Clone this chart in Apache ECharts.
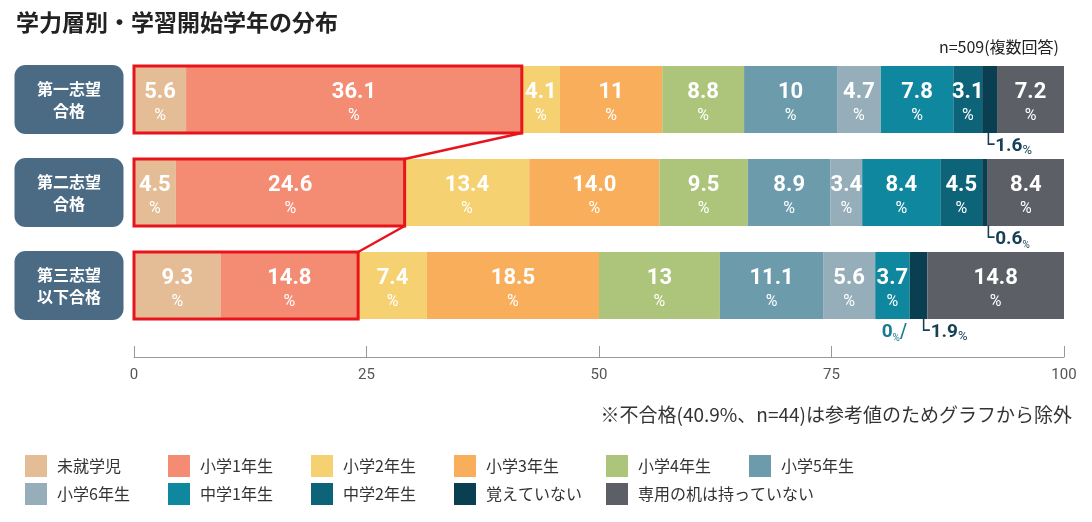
<!DOCTYPE html>
<html>
<head>
<meta charset="utf-8">
<title>ECharts</title>
<script src="https://cdn.jsdelivr.net/npm/echarts@6/dist/echarts.min.js"></script>
</head>
<body style="margin:0">
<div id="main" style="width: 1092px; height: 522px;"></div>
<script type="text/javascript">
// 行ラベル
var categories = ['第一志望\n合格', '第二志望\n合格', '第三志望\n以下合格'];
// 系列（学習開始学年）
var seriesNames = ['未就学児', '小学1年生', '小学2年生', '小学3年生', '小学4年生', '小学5年生',
  '小学6年生', '中学1年生', '中学2年生', '覚えていない', '専用の机は持っていない'];
var colors = ['#e4bd97', '#f48c74', '#f6d172', '#f9ae5c', '#adc57a', '#6c9bab',
  '#96aeba', '#0e879f', '#0d6479', '#0a3e51', '#5c5f66'];
// 各行の値（%）、表示どおりの桁で文字列に
var firstChoice = ['5.6', '36.1', '4.1', '11', '8.8', '10', '4.7', '7.8', '3.1', '1.6', '7.2'];
var secondChoice = ['4.5', '24.6', '13.4', '14.0', '9.5', '8.9', '3.4', '8.4', '4.5', '0.6', '8.4'];
var thirdOrLower = ['9.3', '14.8', '7.4', '18.5', '13', '11.1', '5.6', '3.7', '0', '1.9', '14.8'];
var xTicks = [0, 25, 50, 75, 100];

var rows = [firstChoice, secondChoice, thirdOrLower];
var myChart = echarts.init(document.getElementById('main'));
var font = '"Noto Sans CJK JP", "Noto Sans", sans-serif';
var numFont = 'Roboto, "Noto Sans", sans-serif';

var insideLabel = {
  show: true,
  position: 'inside',
  offset: [0, 3],
  formatter: function (p) { return '{v|' + p.data + '}\n{p|%}'; },
  rich: {
    v: { color: '#fff', fontSize: 22, fontWeight: 'bold', fontFamily: numFont, lineHeight: 27 },
    p: { color: '#fff', fontSize: 16, fontFamily: numFont, lineHeight: 20 }
  }
};

// 棒の外に出すラベル（覚えていない など）
function outsideLabel(color, small, leader, alignRight, dx) {
  return {
    show: true,
    position: [0, '100%'],
    align: alignRight ? 'right' : 'left',
    verticalAlign: 'top',
    offset: [dx, 2],
    formatter: function (p) {
      var v = p.data.value;
      return alignRight ? '{v|' + v + '}{p|%}{l|' + leader + '}' : '{l|' + leader + '}{v|' + v + '}{p|%}';
    },
    rich: {
      l: { color: color, fontSize: 20, fontFamily: '"DejaVu Sans"', lineHeight: 22, padding: [0, 1, 0, 0] },
      v: { color: color, fontSize: 19, fontWeight: 'bold', fontFamily: numFont, lineHeight: 22 },
      p: { color: color, fontSize: small ? 10 : 13, fontFamily: numFont, lineHeight: 22, verticalAlign: 'bottom' }
    }
  };
}

var series = seriesNames.map(function (name, si) {
  return {
    name: name,
    type: 'bar',
    stack: 'total',
    barWidth: 67,
    itemStyle: { color: colors[si] },
    label: insideLabel,
    data: rows.map(function (row, ri) {
      var v = row[si];
      if (si === 9) {
        return { value: v, label: outsideLabel('#173f56', ri === 1, '└', false, ri === 2 ? 8 : 0) };
      }
      if (si === 8 && ri === 2) {
        return { value: v, label: outsideLabel('#1b7a93', true, '/', true, -2) };
      }
      return v;
    })
  };
});

// 赤枠（未就学児＋小学1年生）と行間の接続線
var boxData = rows.map(function (row, ri) {
  var s = +row[0] + +row[1];
  var next = rows[ri + 1] ? (+rows[ri + 1][0] + +rows[ri + 1][1]) : s;
  return [ri, s, next, ri + 1];
});
series.push({
  type: 'custom',
  name: 'box',
  z: 10,
  silent: true,
  clip: false,
  encode: { x: 1, y: 0 },
  data: boxData,
  renderItem: function (params, api) {
    var h = 67;
    var p0 = api.coord([0, api.value(0)]);
    var p1 = api.coord([api.value(1), api.value(0)]);
    var children = [{
      type: 'rect',
      shape: { x: p0[0], y: p0[1] - h / 2, width: p1[0] - p0[0], height: h },
      style: { fill: 'none', stroke: '#e8141c', lineWidth: 3 }
    }];
    if (params.dataIndex < 2) {
      var pn = api.coord([api.value(2), api.value(3)]);
      children.push({
        type: 'line',
        shape: { x1: p1[0], y1: p1[1] + h / 2, x2: pn[0], y2: pn[1] - h / 2 },
        style: { stroke: '#e8141c', lineWidth: 2.5 }
      });
    }
    return { type: 'group', children: children };
  }
});

// 凡例は6列のグリッドに並べる
var legendCols = [25, 168, 311, 454, 606, 749];
var legends = seriesNames.map(function (name, i) {
  return {
    data: [name],
    left: legendCols[i % 6], top: 455 + Math.floor(i / 6) * 28,
    padding: 0,
    icon: 'rect', itemWidth: 22, itemHeight: 22,
    textStyle: { fontFamily: font, fontSize: 16, color: '#333', padding: [0, 0, 0, 5] }
  };
});

var option = {
  animation: false,
  color: colors,
  title: [{
    text: '学力層別・学習開始学年の分布',
    left: 11, top: 6,
    textStyle: { fontFamily: font, fontSize: 23, fontWeight: 'bold', color: '#222' }
  }, {
    text: 'n=509(複数回答)',
    right: 28, top: 34,
    textStyle: { fontFamily: font, fontSize: 16, fontWeight: 'normal', color: '#222' }
  }, {
    text: '※不合格(40.9%、n=44)は参考値のためグラフから除外',
    right: 15, top: 400,
    textStyle: { fontFamily: font, fontSize: 19, fontWeight: 'normal', color: '#333' }
  }],
  legend: legends,
  grid: { left: 134, right: 28, top: 53, bottom: 190 },
  xAxis: {
    type: 'value', min: 0, max: 100, interval: 25,
    offset: 25,
    axisLine: { show: true, lineStyle: { color: '#999' } },
    axisTick: { show: true, inside: true, length: 11, lineStyle: { color: '#999' } },
    splitLine: { show: false },
    axisLabel: {
      margin: 11, color: '#555', fontSize: 15, fontFamily: '"Liberation Sans Narrow", "Roboto", sans-serif',
      formatter: function (v) { return xTicks.indexOf(v) >= 0 ? String(v) : ''; }
    }
  },
  yAxis: {
    type: 'category', inverse: true, data: categories,
    axisLine: { show: false }, axisTick: { show: false },
    axisLabel: {
      margin: 65, align: 'center', verticalAlign: 'middle',
      width: 109, height: 69, lineHeight: 22,
      backgroundColor: '#4b6a84', borderRadius: 11,
      color: '#fff', fontSize: 16, fontWeight: 'bold', fontFamily: font
    }
  },
  series: series
};
myChart.setOption(option);
</script>
</body>
</html>
